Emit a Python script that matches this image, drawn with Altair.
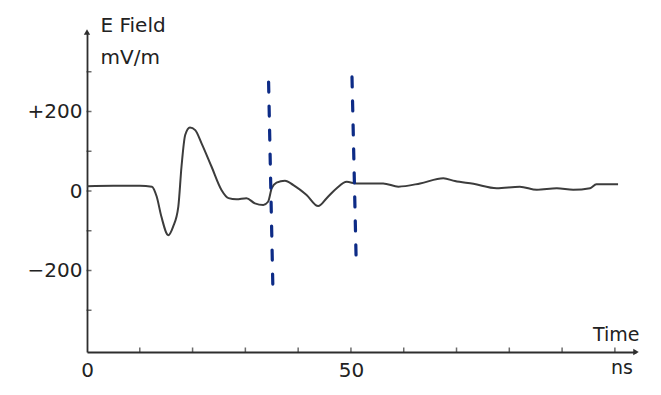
import altair as alt
import pandas as pd

# E-field waveform (ns, mV/m)
time_ns = [0, 5, 10.0, 12.3, 13.2, 14.1, 15.4, 16.3, 17.3, 17.9, 18.6, 19.5, 20.5, 21.7, 23.6,
           25.5, 26.8, 28.3, 30.2, 31.8, 33.4, 34.3, 35.0, 35.9, 37.5, 39.1, 41.6, 43.8, 45.4,
           47.3, 49.2, 51.1, 53.6, 56.1, 59.0, 63.1, 67.5, 69.7, 73.2, 77.6, 82.0, 85.2, 89.0,
           92.1, 95.3, 96.5, 100.6]
efield = [12, 13, 13, 11, -14, -65, -111, -90, -39, 61, 141, 160, 153, 120, 61,
          2, -18, -21, -18, -31, -35, -27, 7, 21, 26, 15, -10, -38, -18,
          7, 23, 19, 19, 19, 11, 19, 32, 25, 18, 7, 11, 3, 7,
          3, 7, 17, 17]

# hand-drawn blue dashed markers
marker_id = ["a", "b"]
marker_t_top = [34.4, 50.2]
marker_t_bottom = [35.2, 51.0]
marker_v_top = [274, 287]
marker_v_bottom = [-236, -181]

# axis ticks
y_ticks = [-300, -200, -100, 0, 100, 200, 300]
x_ticks = [10, 20, 30, 40, 50, 60, 70, 80, 90, 100]

X_DOM = [0, 104]
Y_DOM = [-405, 400]
W, H = 549, 320
INK = "#2e2e2e"
FONT = "DejaVu Sans"

curve_df = pd.DataFrame({"t": time_ns, "e": efield})
mk_df = pd.DataFrame({
    "id": marker_id * 2,
    "t": marker_t_top + marker_t_bottom,
    "e": marker_v_top + marker_v_bottom,
})
yt_df = pd.DataFrame({"e": y_ticks})
xt_df = pd.DataFrame({"t": x_ticks})
arrow_df = pd.DataFrame({"t": [X_DOM[0], X_DOM[1]], "e": [Y_DOM[1], Y_DOM[0]],
                         "shape": ["triangle-up", "triangle-right"]})

xs = alt.Scale(domain=X_DOM, nice=False, zero=False)
ys = alt.Scale(domain=Y_DOM, nice=False, zero=False)

label_expr_y = ("datum.value == 200 ? '+200' : datum.value == -200 ? '\u2212200' : "
                "datum.value == 0 ? '0' : ''")

curve = alt.Chart(curve_df).mark_line(
    color="#3c3c3c", strokeWidth=2, interpolate="monotone"
).encode(
    x=alt.X("t:Q", scale=xs, axis=alt.Axis(
        values=[0, 50], format="d", tickSize=0, grid=False,
        domainColor=INK, domainWidth=1.8,
        labelFont=FONT, labelFontSize=20, labelColor="#222222",
        labelBaseline="middle", labelPadding=18, labelFlush=False,
        title="Time", titleFont=FONT, titleFontSize=19, titleFontWeight="normal",
        titleColor="#222222", titleAlign="right", titleBaseline="alphabetic",
        titleX=552, titleY=-12, titleAnchor="end",
    )),
    y=alt.Y("e:Q", scale=ys, axis=alt.Axis(
        values=y_ticks, labelExpr=label_expr_y, tickSize=0, grid=False,
        domainColor=INK, domainWidth=1.8,
        labelFont=FONT, labelFontSize=20, labelColor="#222222", labelPadding=5,
        labelFlush=False,
        title=["E Field", "mV/m"], titleFont=FONT, titleFontSize=20,
        titleFontWeight="normal", titleColor="#222222", titleAngle=0,
        titleAlign="left", titleBaseline="alphabetic", titleX=13, titleY=-1,
        titleLineHeight=32,
    )),
)

markers = alt.Chart(mk_df).mark_line(
    color="#0d2b86", strokeWidth=3.2, strokeDash=[10, 14], strokeCap="round"
).encode(
    x=alt.X("t:Q", scale=xs),
    y=alt.Y("e:Q", scale=ys),
    detail="id:N",
)

yticks = alt.Chart(yt_df).mark_tick(color=INK, thickness=1.5, size=5).encode(
    y=alt.Y("e:Q", scale=ys),
    x=alt.value(2),
)

xticks = alt.Chart(xt_df).mark_tick(color=INK, thickness=1.5, size=5).encode(
    x=alt.X("t:Q", scale=xs),
    y=alt.value(H - 2),
)

arrows = alt.Chart(arrow_df).mark_point(filled=True, color=INK, size=40, opacity=1).encode(
    x=alt.X("t:Q", scale=xs),
    y=alt.Y("e:Q", scale=ys),
    shape=alt.Shape("shape:N", scale=None, legend=None),
)

ns_label = alt.Chart(pd.DataFrame({"txt": ["ns"]})).mark_text(
    font=FONT, fontSize=19, color="#222222", align="right", baseline="middle"
).encode(
    text="txt:N",
    x=alt.value(W - 3),
    y=alt.value(H + 16),
)

chart = alt.layer(curve, markers, yticks, xticks, arrows, ns_label).properties(
    width=W, height=H,
    autosize=alt.AutoSizeParams(type="none"),
    padding={"left": 79, "top": 24, "right": 17, "bottom": 35},
    background="white",
).configure_view(stroke=None)

chart.save("out.html", embed_options={"renderer": "svg", "actions": False})
